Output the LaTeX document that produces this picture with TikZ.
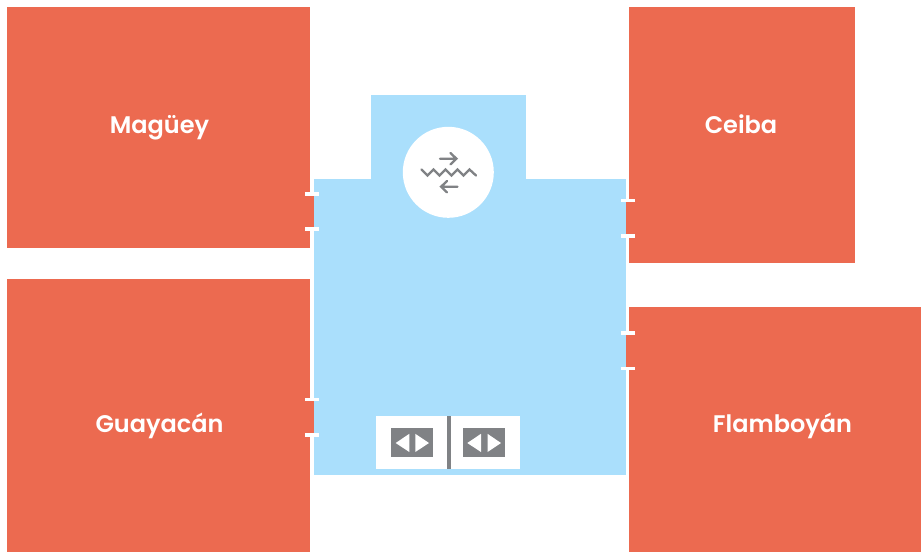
\documentclass[tikz,border=0pt]{standalone}
\usepackage{fontspec}
\setmainfont{Poppins}[BoldFont={Poppins SemiBold}]
\definecolor{roomred}{HTML}{EC6A50}
\definecolor{hallblue}{HTML}{AADFFC}
\definecolor{icongray}{HTML}{808285}
\tikzset{
  x=1pt,y=-1pt,
  room/.style={fill=roomred,draw=none},
  hall/.style={fill=hallblue,draw=none},
  tick/.style={fill=white,draw=none},
  lbl/.style={text=white,font=\bfseries\fontsize{24}{28}\selectfont,inner sep=0pt,anchor=base},
  iconline/.style={draw=icongray,line width=2.3pt,line cap=round,line join=miter},
  btn/.style={fill=icongray,draw=none},
  tri/.style={fill=white,draw=none}
}
\begin{document}
\begin{tikzpicture}
\useasboundingbox (0,0) rectangle (921,552);
\fill[white] (0,0) rectangle (921,552);
% rooms
\fill[room] (7,7) rectangle (310,248);
\fill[room] (7,279) rectangle (310,552);
\fill[room] (629,7) rectangle (855,263);
\fill[room] (629,307) rectangle (921,552);
% hall
\fill[hall] (314,179) rectangle (625.7,475);
\fill[hall] (371,95) rectangle (526,179);
% doors
\fill[room] (309,193) rectangle (314,229);
\fill[room] (309,399) rectangle (314,435);
\fill[room] (625.7,200) rectangle (630,236);
\fill[room] (625.7,333) rectangle (630,369);
% ticks
\fill[tick] (305,192) rectangle (318.5,195.6);
\fill[tick] (305,227.4) rectangle (318.5,231);
\fill[tick] (305,397.8) rectangle (318.5,401.4);
\fill[tick] (305,433.2) rectangle (318.5,436.8);
\fill[tick] (621,198.6) rectangle (634.5,202.2);
\fill[tick] (621,234) rectangle (634.5,237.6);
\fill[tick] (621,331) rectangle (634.5,334.6);
\fill[tick] (621,366.8) rectangle (634.5,370.4);
% labels
\node[lbl] (m) at (159.5,133.5) {Magüey};
\node[lbl] (g) at (159.5,432) {Guayacán};
\node[lbl] (c) at (741,133.5) {Ceiba};
\node[lbl] (f) at (782.5,432) {Flamboyán};
% exchange icon
\fill[white] (448.3,172.3) circle [radius=45.5];
\draw[iconline] (440,158.7) -- (456,158.7) (450.5,153) -- (456.4,158.7) -- (450.5,164.4);
\draw[iconline] (457.5,186.7) -- (441.5,186.7) (447,181) -- (441.1,186.7) -- (447,192.4);
\draw[iconline] (421.5,169.5) -- (427.5,175.5) -- (433.5,169.5) -- (439.5,175.5) -- (445.5,169.5) -- (451.5,175.5) -- (457.5,169.5) -- (463.5,175.5) -- (469.5,169.5) -- (476,175.5);
% controls
\fill[white] (376,416) rectangle (520,469);
\fill[icongray] (447,416) rectangle (451,469);
\fill[btn] (391.3,428) rectangle (433,457);
\fill[btn] (463,428) rectangle (505,457);
\fill[tri] (395.7,443) -- (409.3,433.8) -- (409.3,452) -- cycle;
\fill[tri] (429,443) -- (415.3,433.8) -- (415.3,452) -- cycle;
\fill[tri] (467.3,443) -- (481,433.8) -- (481,452) -- cycle;
\fill[tri] (501,443) -- (487.5,433.8) -- (487.5,452) -- cycle;
\end{tikzpicture}
\end{document}
